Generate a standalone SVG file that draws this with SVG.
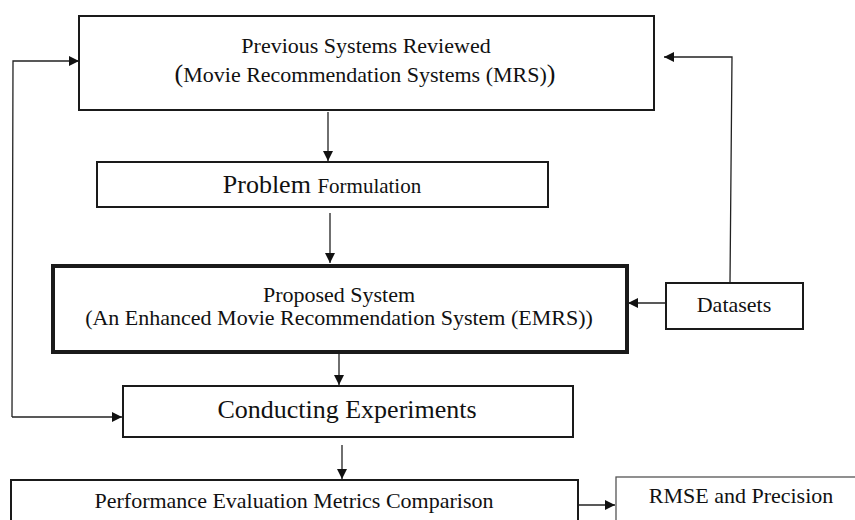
<svg xmlns="http://www.w3.org/2000/svg" width="855" height="520" viewBox="0 0 855 520">
<style>
.box{fill:#fff;stroke:#1a1a1a;stroke-width:2}
.thick{stroke-width:4}
.thin{stroke:#555;stroke-width:1.3}
text{font-family:"Liberation Serif","Times New Roman",serif;fill:#111;text-anchor:middle;font-size:22px}
.big{font-size:26px}
.ln{fill:none;stroke:#222;stroke-width:1.3}
</style>
<defs>
<marker id="ah" markerWidth="10" markerHeight="10" refX="10" refY="5" orient="auto" markerUnits="userSpaceOnUse">
<path d="M0,0 L10,5 L0,10 Z" fill="#111"/>
</marker>
</defs>
<rect width="855" height="520" fill="#fff"/>
<g id="connectors">
<line class="ln" x1="328" y1="112" x2="328" y2="161" marker-end="url(#ah)"/>
<line class="ln" x1="330" y1="213" x2="330" y2="263" marker-end="url(#ah)"/>
<line class="ln" x1="339" y1="353" x2="339" y2="385" marker-end="url(#ah)"/>
<line class="ln" x1="342" y1="445" x2="342" y2="479" marker-end="url(#ah)"/>
<line class="ln" x1="666" y1="303" x2="628" y2="303" marker-end="url(#ah)"/>
<polyline class="ln" points="730,283 732,57 664,57" marker-end="url(#ah)"/>
<polyline class="ln" points="12,417 13,61 79,61" marker-end="url(#ah)"/>
<line class="ln" x1="12" y1="417" x2="122" y2="417" marker-end="url(#ah)"/>
<line class="ln" x1="578" y1="505" x2="615" y2="505" marker-end="url(#ah)"/>
</g>
<g id="n1">
<rect class="box" x="79" y="16" width="575" height="94"/>
<text x="366" y="53">Previous Systems Reviewed</text>
<text x="365" y="82"><tspan font-size="26">(</tspan>Movie Recommendation Systems (MRS)<tspan font-size="26">)</tspan></text>
</g>
<g id="n2">
<rect class="box" x="97" y="162" width="451" height="45"/>
<text x="322" y="193" class="big">Problem <tspan font-size="21">Formulation</tspan></text>
</g>
<g id="n3">
<rect class="box thick" x="53" y="266" width="574" height="86"/>
<text x="339" y="302">Proposed System</text>
<text x="339" y="325">(An Enhanced Movie Recommendation System (EMRS))</text>
</g>
<g id="n4">
<rect class="box" x="666" y="283" width="137" height="46"/>
<text x="734" y="312">Datasets</text>
</g>
<g id="n5">
<rect class="box" x="123" y="386" width="450" height="51"/>
<text x="347" y="418" class="big">Conducting Experiments</text>
</g>
<g id="n6">
<rect class="box" x="11" y="480" width="567" height="50"/>
<text x="294" y="508">Performance Evaluation Metrics Comparison</text>
</g>
<g id="n7">
<rect class="box thin" x="616" y="477" width="250" height="50"/>
<text x="741" y="503">RMSE and Precision</text>
</g>
</svg>
